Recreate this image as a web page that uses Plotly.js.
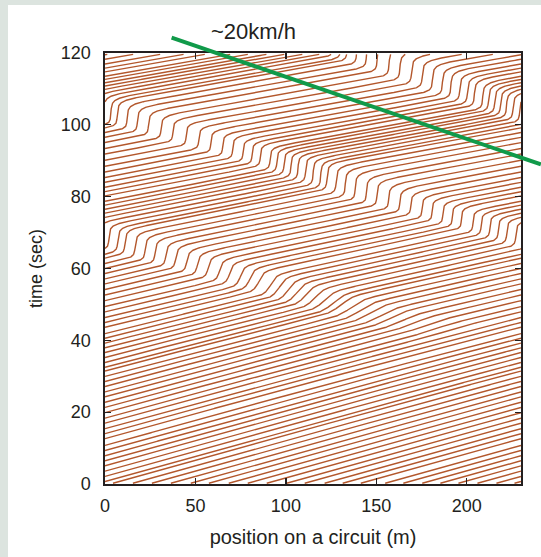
<!DOCTYPE html>
<html>
<head>
<meta charset="utf-8">
<script src="https://cdn.plot.ly/plotly-3.0.1.min.js"></script>
<style>
html,body{margin:0;padding:0;background:#dce4df;overflow:hidden;width:541px;height:557px}
#plot{position:absolute;left:8px;top:5px;width:533px;height:552px;background:#fff}
</style>
</head>
<body>
<div id="plot"></div>
<script>
// ---- data ----
const circuitLength = 230;              // m
const timeStart = 0.2;                  // s
const timeEnd = 119.6;                  // s
// car positions at t = 0 (m), read along the bottom edge
const carStartPos = [3, 14, 24.5, 35, 46, 56, 67, 77.5, 88, 99, 109, 120, 130, 140, 153.5, 163.5, 174, 184, 194, 204.5, 215, 225];
// cruising speed outside the jam (m/s)
const cruiseTime  = [0, 20, 40, 60, 80, 100, 120];
const cruiseSpeed = [7.1, 7.2, 7.7, 9.0, 10.2, 11.0, 11.4];
// jam (stop-and-go wave) track: time (s), position (m, unwrapped), depth (0..1)
const jamTime  = [40, 46, 52, 58, 64, 71, 80, 89, 96, 101, 108, 118, 125];
const jamPos   = [185, 150, 110, 70, 28, -15, -80, -130, -180, -215, -255, -310, -350];
const jamDepth = [0, 0.5, 0.78, 0.92, 0.97, 0.985, 0.985, 0.985, 0.985, 0.985, 0.985, 0.985, 0.985];
const jamWidthUp = 23;                  // m, braking side
const jamWidthDown = 33;                // m, re-acceleration side
// reference line of the backward wave (~20 km/h)
const wavePos  = [36, 241];
const waveTime = [124.4, 89];
const waveLabel = '~20km/h';
const xTicks = [0, 50, 100, 150, 200];
const yTicks = [0, 20, 40, 60, 80, 100, 120];

// ---- helpers ----
function interp(xs, ys, v) {
  if (v <= xs[0]) return ys[0];
  const n = xs.length - 1;
  if (v >= xs[n]) return ys[n];
  let i = 0;
  while (v > xs[i + 1]) i++;
  const f = (v - xs[i]) / (xs[i + 1] - xs[i]);
  return ys[i] + f * (ys[i + 1] - ys[i]);
}
function speedAt(pos, t) {
  const L = circuitLength;
  const V = interp(cruiseTime, cruiseSpeed, t);
  const D = interp(jamTime, jamDepth, t);
  const xj = interp(jamTime, jamPos, t);
  let d = ((pos - xj) % L + L) % L;
  if (d > L / 2) d -= L;
  const u = d / (d < 0 ? jamWidthUp : jamWidthDown);
  return V * (1 - D * Math.exp(-u * u * u * u));
}

// ---- trajectories ----
const trajX = [], trajY = [];
const dt = 0.02, recordEvery = 4;
const L = circuitLength;
carStartPos.forEach(function (x0) {
  let x = x0 + speedAt(x0, 0) * timeStart, t = timeStart;
  let lap = Math.floor(x / L);
  trajX.push(x - lap * L); trajY.push(t);
  let step = 0;
  while (t < timeEnd) {
    const k1 = speedAt(x, t);
    const k2 = speedAt(x + k1 * dt, t + dt);
    const xn = x + 0.5 * (k1 + k2) * dt;
    const tn = t + dt;
    const lapN = Math.floor(xn / L);
    if (lapN !== lap) {
      const tc = t + (lapN * L - x) / (xn - x) * dt;
      trajX.push(L); trajY.push(tc);
      trajX.push(null); trajY.push(null);
      trajX.push(0); trajY.push(tc);
      lap = lapN;
    }
    x = xn; t = tn; step++;
    if (step % recordEvery === 0 || t >= timeEnd) { trajX.push(x - lap * L); trajY.push(t); }
  }
  trajX.push(null); trajY.push(null);
});

const fontFam = '"Liberation Sans", Arial, Helvetica, sans-serif';
const ink = '#231f20';

const traces = [{
  type: 'scatter', mode: 'lines', x: trajX, y: trajY,
  line: {color: '#b3572c', width: 1.4}, hoverinfo: 'skip', connectgaps: false,
  showlegend: false
}];

const axisCommon = {
  showline: true, mirror: 'ticks', linecolor: ink, linewidth: 1.6,
  ticks: 'inside', ticklen: 6, tickwidth: 1.3, tickcolor: ink,
  showgrid: false, zeroline: false,
  tickfont: {family: fontFam, size: 18, color: ink}
};

const layout = {
  width: 533, height: 552,
  margin: {l: 97, r: 20, t: 48, b: 73},
  paper_bgcolor: '#ffffff', plot_bgcolor: '#ffffff',
  showlegend: false,
  xaxis: Object.assign({}, axisCommon, {
    range: [0, 230], tickvals: xTicks, ticktext: xTicks.map(String),
    ticklabelstandoff: 5,
    title: {text: 'position on a circuit (m)', font: {family: fontFam, size: 20, color: ink}, standoff: 15}
  }),
  yaxis: Object.assign({}, axisCommon, {
    range: [0, 120], tickvals: yTicks, ticktext: yTicks.map(String),
    ticklabelstandoff: 9,
    title: {text: 'time (sec)', font: {family: fontFam, size: 18, color: ink}, standoff: 13}
  }),
  annotations: [
    {
      x: wavePos[1], y: waveTime[1], xref: 'x', yref: 'y',
      ax: wavePos[0], ay: waveTime[0], axref: 'x', ayref: 'y',
      text: '', showarrow: true, arrowhead: 0, arrowwidth: 4, arrowcolor: '#109a4a',
      standoff: 0, startstandoff: 0
    },
    {
      x: 82, y: 1.05, xref: 'x', yref: 'paper', text: waveLabel, showarrow: false,
      font: {family: fontFam, size: 22, color: ink}, xanchor: 'center', yanchor: 'middle'
    }
  ]
};

Plotly.newPlot('plot', traces, layout, {displayModeBar: false, staticPlot: true});
</script>
</body>
</html>
